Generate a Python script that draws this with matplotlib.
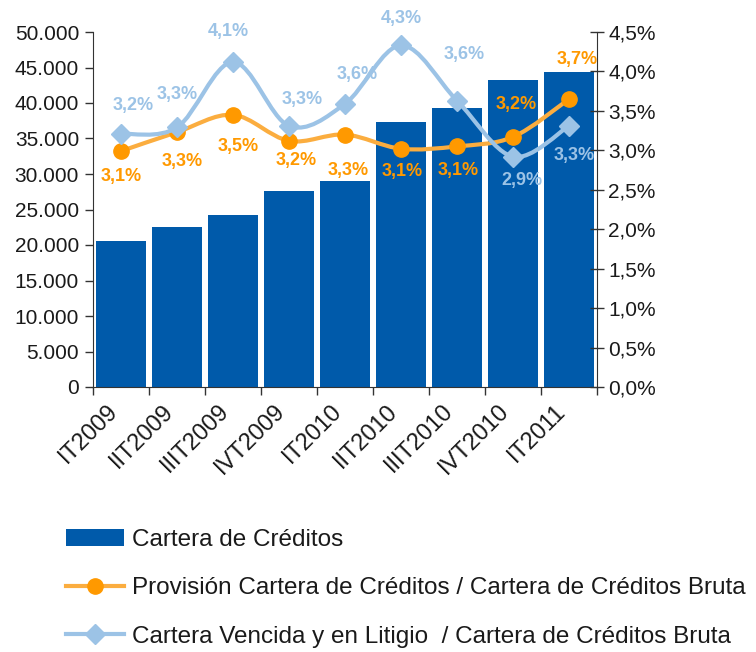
import numpy as np
import matplotlib
matplotlib.use("Agg")
import matplotlib.pyplot as plt
from matplotlib.path import Path
from matplotlib.patches import PathPatch, Patch
from matplotlib.lines import Line2D
from matplotlib.ticker import FuncFormatter, MultipleLocator

# data
quarters = ["IT2009", "IIT2009", "IIIT2009", "IVT2009", "IT2010",
            "IIT2010", "IIIT2010", "IVT2010", "IT2011"]
cartera = [20500, 22470, 24160, 27540, 28950, 37390, 39360, 43300, 44430]
provision = [2.99, 3.23, 3.45, 3.12, 3.20, 3.02, 3.05, 3.17, 3.65]
vencida = [3.21, 3.29, 4.12, 3.31, 3.59, 4.33, 3.63, 2.92, 3.31]
provision_labels = ["3,1%", "3,3%", "3,5%", "3,2%", "3,3%", "3,1%", "3,1%", "3,2%", "3,7%"]
vencida_labels = ["3,2%", "3,3%", "4,1%", "3,3%", "3,6%", "4,3%", "3,6%", "2,9%", "3,3%"]

# label offsets in pixels (dx, dy downwards)
provision_off = [(0, 25), (5, 29), (5, 32), (7, 20), (3, 36), (1, 23), (1, 24), (3, -32), (8, -40)]
vencida_off = [(12, -28), (0, -33), (-5, -30), (13, -26), (12, -29), (0, -27), (7, -46), (9, 24), (5, 30)]

BAR = "#005AAA"
ORANGE = "#FF9900"
ORANGE_LINE = "#FBAD3F"
BLUE = "#9CC3E6"
TXT = "#1a1a1a"

plt.rcParams["font.family"] = ["Liberation Sans", "DejaVu Sans"]


def smooth_path(xs, ys):
    pts = np.column_stack([xs, ys]).astype(float)
    verts = [pts[0]]
    codes = [Path.MOVETO]
    n = len(pts)
    for i in range(n - 1):
        p0 = pts[i - 1] if i > 0 else pts[i]
        p1, p2 = pts[i], pts[i + 1]
        p3 = pts[i + 2] if i + 2 < n else pts[i + 1]
        verts += [p1 + (p2 - p0) / 6, p2 - (p3 - p1) / 6, p2]
        codes += [Path.CURVE4] * 3
    return Path(verts, codes)


fig = plt.figure(figsize=(7.56, 6.52), dpi=100)
ax = fig.add_axes([93 / 756, 1 - 387 / 652, 504 / 756, 355 / 652])
x = np.arange(len(quarters))

ax.bar(x, cartera, width=0.89, color=BAR, zorder=2)
ax.set_xlim(-0.5, len(quarters) - 0.5)
ax.set_ylim(0, 50000)
ax.yaxis.set_major_locator(MultipleLocator(5000))
ax.yaxis.set_major_formatter(FuncFormatter(lambda v, p: f"{int(v):,}".replace(",", ".")))
ax.set_xticks(np.arange(-0.5, len(quarters), 1.0))
ax.set_xticklabels([])
for xi, q in zip(x, quarters):
    ax.annotate(q, (xi, 0), xycoords=("data", "axes fraction"), xytext=(-5, -15),
                textcoords="offset points", rotation=45, rotation_mode="anchor",
                ha="right", va="center", fontsize=17, color=TXT, annotation_clip=False)
ax.tick_params(axis="x", which="major", length=6, width=1, color="#333333")
ax.tick_params(axis="y", length=6, width=1, color="#333333", labelsize=15,
               labelcolor=TXT, pad=4)
for s in ["top", "right"]:
    ax.spines[s].set_visible(False)
for s in ["left", "bottom"]:
    ax.spines[s].set_color("#333333")

ax2 = ax.twinx()
ax2.set_ylim(0, 4.5)
ax2.yaxis.set_major_locator(MultipleLocator(0.5))
ax2.yaxis.set_major_formatter(FuncFormatter(lambda v, p: f"{v:.1f}%".replace(".", ",")))
ax2.tick_params(axis="y", direction="inout", length=10, width=1, color="#333333",
                labelsize=15, labelcolor=TXT, pad=3)
for s in ["top", "left", "bottom"]:
    ax2.spines[s].set_visible(False)
ax2.spines["right"].set_color("#333333")

ax2.add_patch(PathPatch(smooth_path(x, provision), fill=False, edgecolor=ORANGE_LINE,
                        lw=3, zorder=3, capstyle="round"))
ax2.plot(x, provision, ls="none", marker="o", ms=11, color=ORANGE, zorder=4)
ax2.add_patch(PathPatch(smooth_path(x, vencida), fill=False, edgecolor=BLUE,
                        lw=3, zorder=5, capstyle="round"))
ax2.plot(x, vencida, ls="none", marker="D", ms=10, color=BLUE, zorder=6)

for xi, yi, lab, (dx, dy) in zip(x, provision, provision_labels, provision_off):
    ax2.annotate(lab, (xi, yi), xytext=(dx * 0.72, -dy * 0.72), textcoords="offset points",
                 ha="center", va="center", fontsize=13, fontweight="bold",
                 color=ORANGE, zorder=7)
for xi, yi, lab, (dx, dy) in zip(x, vencida, vencida_labels, vencida_off):
    ax2.annotate(lab, (xi, yi), xytext=(dx * 0.72, -dy * 0.72), textcoords="offset points",
                 ha="center", va="center", fontsize=13, fontweight="bold",
                 color=BLUE, zorder=7)

handles = [
    Patch(facecolor=BAR, edgecolor="none"),
    Line2D([], [], color=ORANGE_LINE, lw=3, marker="o", ms=11, mfc=ORANGE, mec=ORANGE),
    Line2D([], [], color=BLUE, lw=3, marker="D", ms=10, mfc=BLUE, mec=BLUE),
]
names = [
    "Cartera de Créditos",
    "Provisión Cartera de Créditos / Cartera de Créditos Bruta",
    "Cartera Vencida y en Litigio  / Cartera de Créditos Bruta",
]
fig.legend(handles, names, loc="upper left", bbox_to_anchor=(66 / 756, 1 - 529 / 652),
           frameon=False, fontsize=17.5, handlelength=2.4, handleheight=0.7,
           handletextpad=0.3, labelspacing=1.08, borderpad=0, borderaxespad=0,
           labelcolor=TXT)

fig.savefig("out.png", dpi=100)
